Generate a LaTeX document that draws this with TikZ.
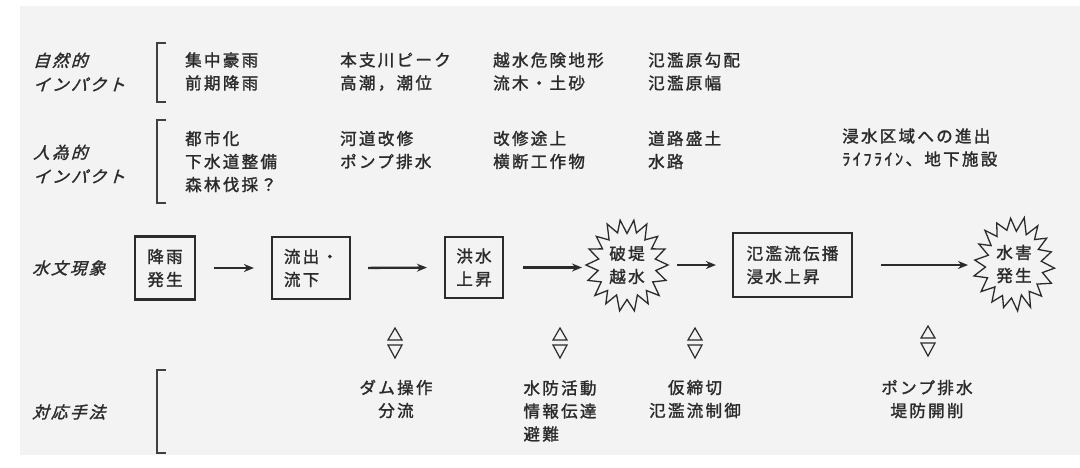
\documentclass[tikz,border=0pt]{standalone}
\usepackage{fontspec}
\usetikzlibrary{arrows.meta}
\newfontfamily\jp[LetterSpace=14,FakeBold=1.6]{Noto Sans CJK JP}
\newfontfamily\jpsl[FakeSlant=0.3,LetterSpace=14,FakeBold=1.6]{Noto Sans CJK JP}
\definecolor{ink}{HTML}{2B2B2B}
\definecolor{paper}{HTML}{F3F3F3}
\tikzset{
  txt/.style={font=\jp\fontsize{16.5}{23}\selectfont, text=ink, inner sep=0pt, align=left, anchor=west},
  lbl/.style={font=\jpsl\fontsize{16.5}{24}\selectfont, text=ink, inner sep=0pt, align=left, anchor=west},
  box/.style={draw=ink, line width=2.2pt, inner sep=0pt, align=center, font=\jp\fontsize{16.5}{23}\selectfont, text=ink},
  burst/.style={circle, inner sep=0pt, minimum size=60pt, align=center, font=\jp\fontsize{16.5}{23}\selectfont, text=ink},
  burstline/.style={draw=ink, line width=1.3pt, line join=miter, miter limit=20},
  flow/.style={draw=ink, line width=2.3pt, -{Stealth[length=10pt,width=8pt]}},
  brk/.style={draw=ink!90, line width=1.7pt},
  updown/.pic={
    \draw[ink, line width=1.2pt, line join=miter] (0,-15) -- (7,-3) -- (-7,-3) -- cycle;
    \draw[ink, line width=1.2pt, line join=miter] (-7,2) -- (7,2) -- (0,15) -- cycle;
  }
}
\begin{document}
\begin{tikzpicture}[x=1pt,y=-1pt]
\useasboundingbox (0,0) rectangle (1080,467);
\fill[white] (0,0) rectangle (1080,467);
\fill[paper] (20,6) rectangle (1080,455);

% row labels
\node[lbl] (n1) at (33,72) {自然的\\インパクト};
\node[lbl] (n2) at (33,164) {人為的\\インパクト};
\node[lbl] (n3) at (32,268) {水文現象};
\node[lbl] (n4) at (32,412) {対応手法};

% brackets
\draw[brk] (166,43) -- (157,43) -- (157,102) -- (166,102);
\draw[brk] (166,120) -- (157,120) -- (157,203) -- (166,203);
\draw[brk] (166,370) -- (157,370) -- (157,453) -- (166,453);

% natural impacts
\node[txt] (r1a) at (185,71.5) {集中豪雨\\前期降雨};
\node[txt] (r1b) at (340,71.5) {本支川ピーク\\高潮，潮位};
\node[txt] (r1c) at (493,71.5) {越水危険地形\\流木・土砂};
\node[txt] (r1d) at (648,71.5) {氾濫原勾配\\氾濫原幅};

% human impacts
\node[txt] (r2a) at (185,161.5) {都市化\\下水道整備\\森林伐採？};
\node[txt] (r2b) at (340,150) {河道改修\\ポンプ排水};
\node[txt] (r2c) at (493,150) {改修途上\\横断工作物};
\node[txt] (r2d) at (648,150) {道路盛土\\水路};
\node[txt] (r2e) at (842,147.5) {浸水区域への進出\\ﾗｲﾌﾗｲﾝ、地下施設};

% hydrological chain
\node[box, minimum width=60pt, minimum height=63pt] (b1) at (165,268) {降雨\\発生};
\node[box, minimum width=78pt, minimum height=62pt, align=left] (b2) at (311,268) {流出・\\流下};
\node[box, minimum width=58pt, minimum height=61pt] (b3) at (474,267.5) {洪水\\上昇};
\node[burst] (s1) at (627,265) {破堤\\越水};
\node[box, minimum width=119pt, minimum height=64pt, align=left] (b4) at (792.5,265) {氾濫流伝播\\浸水上昇};
\node[burst] (s2) at (1014,264) {水害\\発生};

\draw[burstline, shift={(s1.center)}] plot[samples at={0,10,...,350}]
  ({(35+6*cos(18*\x)+1.5*sin(37*\x))*cos(\x)}, {(39.5+6.5*cos(18*\x)+1.5*sin(29*\x))*sin(\x)}) -- cycle;
\draw[burstline, shift={(s2.center)}] plot[samples at={5,15,...,355}]
  ({(34+6*cos(18*(\x-5))+1.5*sin(31*\x))*cos(\x)}, {(40+6.5*cos(18*(\x-5))+1.5*sin(23*\x))*sin(\x)}) -- cycle;

\draw[flow, shorten <=18pt, shorten >=17pt] (b1.east) -- (b2.west);
\draw[flow, shorten <=17pt, shorten >=17pt] (b2.east) -- (b3.west);
\draw[flow, shorten <=19pt, shorten >=45pt] (b3.east) -- (b3.east -| s1.center);
\draw[flow, shorten <=50pt, shorten >=16pt] (s1.center) -- (b4.west);
\draw[flow, shorten <=28pt, shorten >=46pt] (b4.east) -- (b4.east -| s2.center);

% two-way markers
\pic at (395,343) {updown};
\pic at (560,343) {updown};
\pic at (695,343) {updown};
\pic at (928,341) {updown};

% countermeasures
\node[txt, anchor=center, align=center] (c1) at (396,399) {ダム操作\\分流};
\node[txt, anchor=center, align=left] (c2) at (560,411) {水防活動\\情報伝達\\避難};
\node[txt, anchor=center, align=center] (c3) at (695,399) {仮締切\\氾濫流制御};
\node[txt, anchor=center, align=center] (c4) at (927,399) {ポンプ排水\\堤防開削};
\end{tikzpicture}
\end{document}
